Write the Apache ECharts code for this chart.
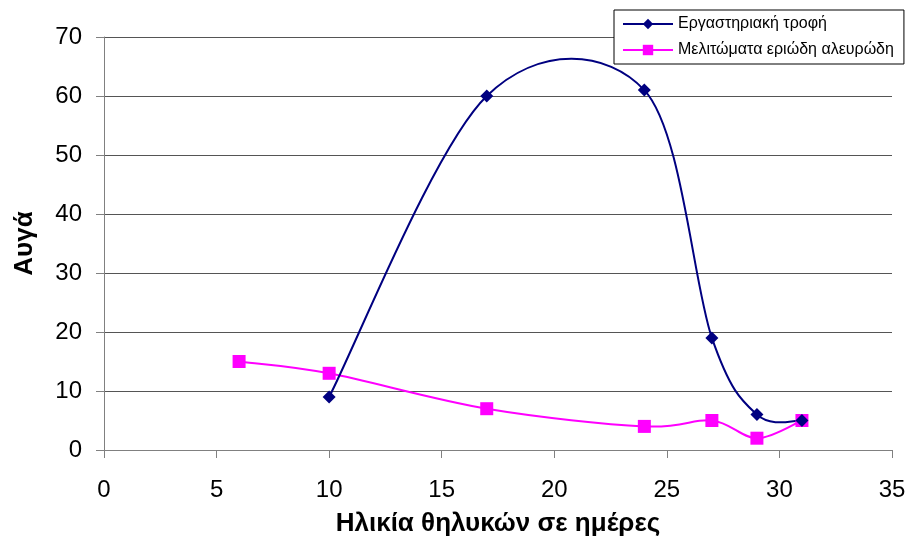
<!DOCTYPE html>
<html>
<head>
<meta charset="utf-8">
<script src="https://cdn.jsdelivr.net/npm/echarts@6/dist/echarts.min.js"></script>
<style>html,body{margin:0;padding:0;background:#fff;}#c{width:909px;height:542px;}</style>
</head>
<body>
<div id="c"></div>
<script>
const seriesNames = ["Εργαστηριακή τροφή", "Μελιτώματα εριώδη αλευρώδη"];
const labDays = [10, 17, 24, 27, 29, 31];
const labEggs = [9, 60, 61, 19, 6, 5];
const honeyDays = [6, 10, 17, 24, 27, 29, 31];
const honeyEggs = [15, 13, 7, 4, 5, 2, 5];
const xTitle = "Ηλικία θηλυκών σε ημέρες";
const yTitle = "Αυγά";

const pair = (xs, ys) => xs.map((x, i) => [x, ys[i]]);
const font = "Arial, 'Liberation Sans', sans-serif";
const NAVY = '#000080', MAGENTA = '#FF00FF';

// Smooth (Catmull-Rom style, as in spreadsheet smoothed lines) drawn through the axis scales
function smoothCurve(xs, ys, color) {
  return function (params, api) {
    if (params.dataIndex !== 0) return null;
    const P = xs.map((x, i) => api.coord([x, ys[i]]));
    const n = P.length;
    const children = [];
    for (let i = 0; i < n - 1; i++) {
      const p0 = P[Math.max(i - 1, 0)], p1 = P[i], p2 = P[i + 1], p3 = P[Math.min(i + 2, n - 1)];
      children.push({
        type: 'bezierCurve',
        shape: {
          x1: p1[0], y1: p1[1], x2: p2[0], y2: p2[1],
          cpx1: p1[0] + (p2[0] - p0[0]) / 6, cpy1: p1[1] + (p2[1] - p0[1]) / 6,
          cpx2: p2[0] - (p3[0] - p1[0]) / 6, cpy2: p2[1] - (p3[1] - p1[1]) / 6
        },
        style: { stroke: color, lineWidth: 2, fill: null }
      });
    }
    return { type: 'group', children };
  };
}

const chart = echarts.init(document.getElementById('c'));
chart.setOption({
  animation: false,
  backgroundColor: '#fff',
  grid: { left: 104, right: 17, top: 37, bottom: 91 },
  legend: {
    orient: 'vertical',
    left: 614, top: 10,
    padding: [6, 10, 6, 8],
    itemGap: 10,
    itemWidth: 50,
    itemHeight: 13,
    borderColor: '#000', borderWidth: 1,
    backgroundColor: '#fff',
    textStyle: { fontFamily: font, fontSize: 16, color: '#000' },
    data: [
      { name: seriesNames[0], lineStyle: { opacity: 1, width: 2, color: NAVY } },
      { name: seriesNames[1], lineStyle: { opacity: 1, width: 2, color: MAGENTA } }
    ]
  },
  xAxis: {
    type: 'value', min: 0, max: 35, interval: 5,
    name: xTitle, nameLocation: 'middle', nameGap: 61,
    nameTextStyle: { fontFamily: font, fontSize: 26, fontWeight: 'bold', color: '#000' },
    axisLine: { show: true, onZero: false, lineStyle: { color: '#808080', width: 1 } },
    axisTick: { show: true, length: 8, lineStyle: { color: '#808080' } },
    axisLabel: { fontFamily: font, fontSize: 24, color: '#000', margin: 28 },
    splitLine: { show: false }
  },
  yAxis: {
    type: 'value', min: 0, max: 70, interval: 10,
    name: yTitle, nameLocation: 'middle', nameGap: 66,
    nameTextStyle: { fontFamily: font, fontSize: 26, fontWeight: 'bold', color: '#000' },
    axisLine: { show: true, lineStyle: { color: '#808080', width: 1 } },
    axisTick: { show: true, length: 8, lineStyle: { color: '#808080' } },
    axisLabel: { fontFamily: font, fontSize: 24, color: '#000', margin: 22 },
    splitLine: { show: true, lineStyle: { color: '#555', width: 1 } }
  },
  series: [
    {
      name: seriesNames[0], type: 'line',
      data: pair(labDays, labEggs),
      symbol: 'diamond', symbolSize: 13,
      lineStyle: { color: NAVY, width: 2, opacity: 0 },
      itemStyle: { color: NAVY },
      z: 5
    },
    {
      name: seriesNames[1], type: 'line',
      data: pair(honeyDays, honeyEggs),
      symbol: 'rect', symbolSize: 13,
      lineStyle: { color: MAGENTA, width: 2, opacity: 0 },
      itemStyle: { color: MAGENTA },
      z: 4
    },
    {
      name: seriesNames[0], type: 'custom',
      data: pair(labDays, labEggs),
      renderItem: smoothCurve(labDays, labEggs, NAVY),
      z: 3, silent: true
    },
    {
      name: seriesNames[1], type: 'custom',
      data: pair(honeyDays, honeyEggs),
      renderItem: smoothCurve(honeyDays, honeyEggs, MAGENTA),
      z: 2, silent: true
    }
  ]
});
</script>
</body>
</html>
